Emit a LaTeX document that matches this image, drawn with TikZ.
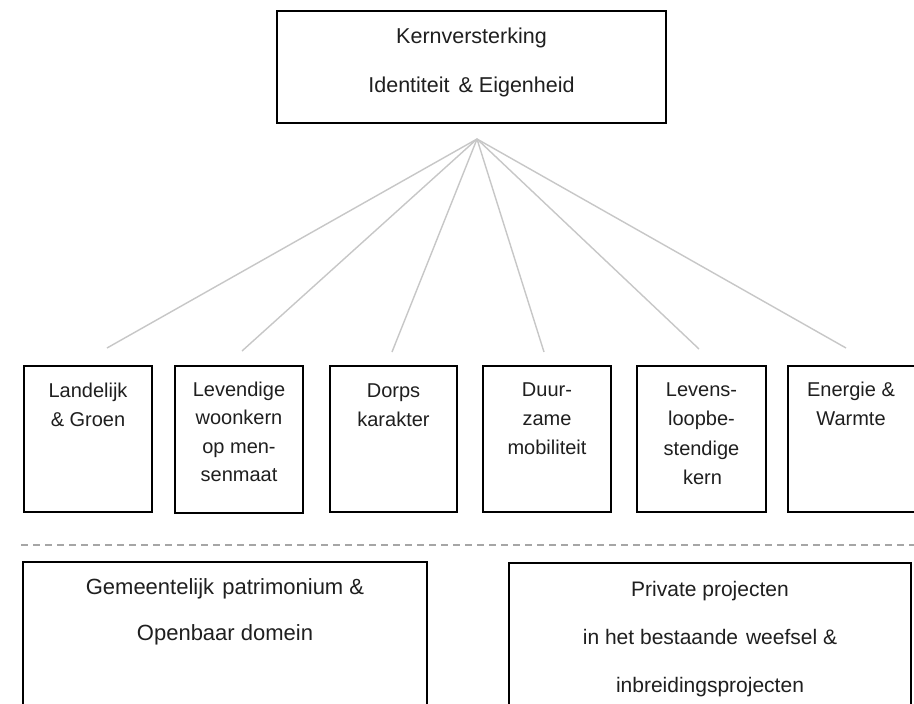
\documentclass[tikz,border=0pt]{standalone}
\usepackage{fontspec}
\setmainfont{Liberation Sans}
\begin{document}
\begin{tikzpicture}[x=1pt,y=-1pt,
  box/.style={draw=black, line width=2.6pt, inner sep=0pt},
  conn/.style={draw=black!22, line width=1.4pt},
  sepline/.style={draw=black!35, line width=1.3pt, dash pattern=on 7pt off 5pt},
  ttop/.style={anchor=base, font=\fontsize{21.5}{26}\selectfont, text=black!88, inner sep=0pt},
  tsmall/.style={anchor=base, font=\fontsize{20}{24}\selectfont, text=black!88, inner sep=0pt},
  tbot/.style={anchor=base, font=\fontsize{21}{26}\selectfont, text=black!88, inner sep=0pt},
  tbotl/.style={tbot, font=\fontsize{22}{26}\selectfont}]
\useasboundingbox (0,0) rectangle (914,704);
\clip (0,0) rectangle (914,704);
\fill[white] (0,0) rectangle (914,704);

% top box
\node[box, minimum width=389pt, minimum height=112pt] (top) at (471.5,67) {};
\node[ttop] (toptxt1) at (471.5,43) {Kernversterking};
\node[ttop] (toptxt2) at (471.5,92) {Identiteit\hspace{3pt} \& Eigenheid};

% connectors
\coordinate (apex) at (477,139);
\coordinate (e1) at (107,348);
\coordinate (e2) at (242,351);
\coordinate (e3) at (392,352);
\coordinate (e4) at (544,352);
\coordinate (e5) at (699,349);
\coordinate (e6) at (846,348);
\foreach \e in {e1,e2,e3,e4,e5,e6} \draw[conn] (apex) -- (\e);

% six theme boxes
\node[box, minimum width=128pt, minimum height=146pt] (b1) at (88,439) {};
\node[box, minimum width=128pt, minimum height=147pt] (b2) at (239,439.5) {};
\node[box, minimum width=127pt, minimum height=146pt] (b3) at (393.5,439) {};
\node[box, minimum width=128pt, minimum height=146pt] (b4) at (547,439) {};
\node[box, minimum width=129pt, minimum height=146pt] (b5) at (701.5,439) {};
\node[box, minimum width=129pt, minimum height=146pt] (b6) at (852.5,439) {};

\node[tsmall] (b1a) at (88,397) {Landelijk};
\node[tsmall] (b1b) at (88,426) {\& Groen};

\node[tsmall] (b2a) at (239,396) {Levendige};
\node[tsmall] (b2b) at (239,424.5) {woonkern};
\node[tsmall] (b2c) at (239,453) {op men-};
\node[tsmall] (b2d) at (239,481.5) {senmaat};

\node[tsmall] (b3a) at (393.5,397) {Dorps};
\node[tsmall] (b3b) at (393.5,426) {karakter};

\node[tsmall] (b4a) at (547,396) {Duur-};
\node[tsmall] (b4b) at (547,425) {zame};
\node[tsmall] (b4c) at (547,454) {mobiliteit};

\node[tsmall] (b5a) at (701.5,396) {Levens-};
\node[tsmall] (b5b) at (701.5,425.5) {loopbe-};
\node[tsmall] (b5c) at (701.5,455) {stendige};
\node[tsmall] (b5d) at (702.5,484.5) {kern};

\node[tsmall] (b6a) at (851,396) {Energie \&};
\node[tsmall] (b6b) at (851,425) {Warmte};

% dashed separator
\coordinate (sl) at (21,545);
\coordinate (sr) at (914,545);
\draw[sepline] (sl) -- (sr);

% bottom boxes
\node[box, minimum width=404pt, minimum height=158pt] (bl) at (225,641) {};
\node[box, minimum width=402pt, minimum height=157pt] (br) at (710,641.5) {};

\node[tbotl] (bla) at (225,594) {Gemeentelijk\hspace{2pt} patrimonium \&};
\node[tbotl] (blb) at (225,640) {Openbaar domein};

\node[tbot] (bra) at (710,596) {Private projecten};
\node[tbot] (brb) at (710,644) {in het bestaande\hspace{2pt} weefsel \&};
\node[tbot] (brc) at (710,692) {inbreidingsprojecten};
\end{tikzpicture}
\end{document}
